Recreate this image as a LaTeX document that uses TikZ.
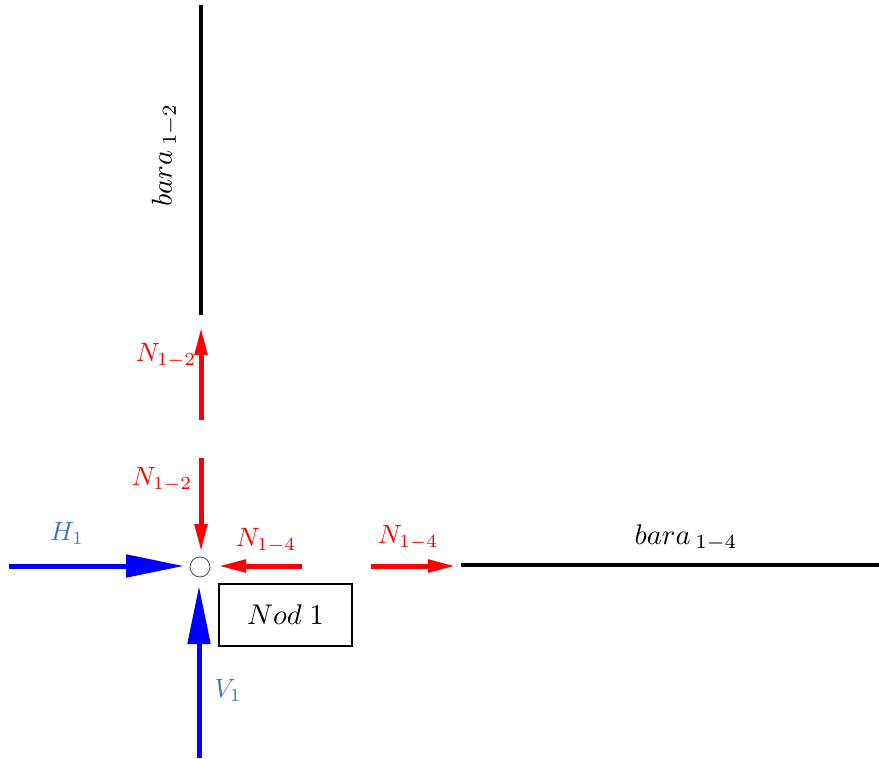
\documentclass[tikz,border=0pt]{standalone}
\usetikzlibrary{arrows.meta}
\definecolor{lblue}{HTML}{4472C4}
\begin{document}
\begin{tikzpicture}[x=1pt,y=-1pt,
  bar/.style={line width=4pt,black},
  redarr/.style={red,line width=5pt,-{Triangle[length=28pt,width=12pt]}},
  bluearr/.style={blue,line width=5pt,-{Triangle[length=58pt,width=22pt]}},
  lbl/.style={scale=2.65,inner sep=0pt},
  rlbl/.style={lbl,text=red},
  blbl/.style={lbl,text=lblue}]
\useasboundingbox (0,0) rectangle (879,759);
% bars
\coordinate (b12a) at (201,5);
\coordinate (b12b) at (201,315);
\coordinate (b14a) at (461,565);
\coordinate (b14b) at (879,565);
\draw[bar] (b12a) -- (b12b);
\draw[bar] (b14a) -- (b14b);
% joint
\node[circle,draw=black!70,line width=0.8pt,minimum size=20pt,inner sep=0pt] (c) at (200,567) {};
% red arrows
\coordinate (u1) at (201,420); \coordinate (u2) at (201,327);
\coordinate (d1) at (201,458); \coordinate (d2) at (201,552);
\coordinate (l1) at (302,566); \coordinate (l2) at (218,566);
\coordinate (r1) at (371,566); \coordinate (r2) at (456,566);
\draw[redarr] (u1) -- (u2);
\draw[redarr] (d1) -- (d2);
\draw[redarr] (l1) -- (l2);
\draw[redarr] (r1) -- (r2);
% blue arrows
\coordinate (h1) at (9,566); \coordinate (h2) at (184,566);
\coordinate (v1) at (199,758); \coordinate (v2) at (199,586);
\draw[bluearr] (h1) -- (h2);
\draw[bluearr] (v1) -- (v2);
% box
\node[draw,line width=1.2pt,minimum width=133pt,minimum height=62pt,inner sep=0pt] (nod) at (285.5,615) {};
\node[scale=2.85,inner sep=0pt] (nodt) at (nod.center) {$Nod\;1$};
% labels
\node[rlbl] (ln1) at (166,356) {$N_{1-2}$};
\node[rlbl] (ln2) at (162,480) {$N_{1-2}$};
\node[rlbl] (ln3) at (266,541) {$N_{1-4}$};
\node[rlbl] (ln4) at (408,538) {$N_{1-4}$};
\node[blbl] (lh) at (67,533) {$H_1$};
\node[blbl] (lv) at (228,690) {$V_1$};
\node[scale=2.85,inner sep=0pt] (lb14) at (686,538) {$bara\,{}_{1-4}$};
\node[scale=2.85,inner sep=0pt,rotate=90] (lb12) at (165,155) {$bara\,{}_{1-2}$};
\end{tikzpicture}
\end{document}
